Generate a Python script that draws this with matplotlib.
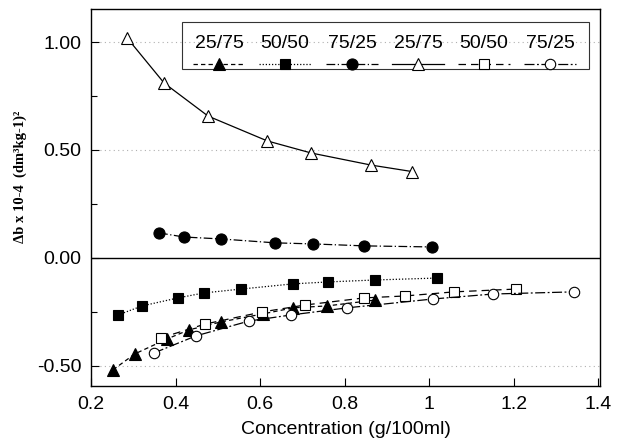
import matplotlib
matplotlib.use("Agg")
import matplotlib.pyplot as plt
from matplotlib.patches import Rectangle

# ---- data ----
labels = ["25/75", "50/50", "75/25", "25/75", "50/50", "75/25"]

x_tri_f = [0.252, 0.304, 0.380, 0.432, 0.508, 0.607, 0.678, 0.759, 0.872]
y_tri_f = [-0.518, -0.444, -0.375, -0.333, -0.296, -0.259, -0.231, -0.222, -0.195]

x_sq_f = [0.264, 0.321, 0.406, 0.467, 0.555, 0.678, 0.761, 0.872, 1.019]
y_sq_f = [-0.264, -0.222, -0.185, -0.162, -0.144, -0.120, -0.111, -0.102, -0.093]

x_ci_f = [0.361, 0.420, 0.508, 0.635, 0.725, 0.846, 1.007]
y_ci_f = [0.116, 0.097, 0.088, 0.070, 0.065, 0.056, 0.051]

x_tri_o = [0.285, 0.373, 0.477, 0.617, 0.721, 0.863, 0.960]
y_tri_o = [1.020, 0.810, 0.657, 0.542, 0.486, 0.430, 0.400]

x_sq_o = [0.366, 0.470, 0.605, 0.706, 0.846, 0.943, 1.059, 1.206]
y_sq_o = [-0.370, -0.306, -0.250, -0.218, -0.185, -0.176, -0.157, -0.144]

x_ci_o = [0.349, 0.448, 0.574, 0.673, 0.806, 1.009, 1.151, 1.343]
y_ci_o = [-0.440, -0.361, -0.292, -0.264, -0.231, -0.190, -0.167, -0.157]

xticks = [0.2, 0.4, 0.6, 0.8, 1.0, 1.2, 1.4]
xticklabels = ["0.2", "0.4", "0.6", "0.8", "1", "1.2", "1.4"]
yticks = [-0.5, 0.0, 0.5, 1.0]
yticklabels = ["-0.50", "0.00", "0.50", "1.00"]

# ---- figure ----
W, H = 617, 441
fig = plt.figure(figsize=(W / 100, H / 100), dpi=100)
L, R, T, B = 91, 600, 9, 386
ax = fig.add_axes([L / W, 1 - B / H, (R - L) / W, (B - T) / H])
ax.set_xlim(0.2, 1.404)
ax.set_ylim(-0.593, 1.153)

sans = "Liberation Sans"
lw = 0.9
series = [
    (x_tri_f, y_tri_f, dict(marker="^", mfc="black", mec="black", ms=9, linestyle=(0, (3.5, 2.5)))),
    (x_sq_f, y_sq_f, dict(marker="s", mfc="black", mec="black", ms=7.5, linestyle=(0, (1, 1.5)))),
    (x_ci_f, y_ci_f, dict(marker="o", mfc="black", mec="black", ms=8, linestyle=(0, (7, 2, 1, 2)))),
    (x_tri_o, y_tri_o, dict(marker="^", mfc="white", mec="black", ms=9, linestyle="-")),
    (x_sq_o, y_sq_o, dict(marker="s", mfc="white", mec="black", ms=7.5, linestyle=(0, (6, 4)))),
    (x_ci_o, y_ci_o, dict(marker="o", mfc="white", mec="black", ms=7.5, linestyle=(0, (8, 2, 1.5, 2)))),
]
for xs, ys, st in series:
    ax.plot(xs, ys, color="black", lw=lw, mew=0.8, **st, zorder=3)

ax.axhline(0, color="black", lw=1.0, zorder=2)
for yv in [-0.5, 0.5, 1.0]:
    ax.axhline(yv, color="#b0b0b0", lw=0.8, linestyle=(0, (1, 3)), zorder=1)

ax.set_xticks(xticks)
ax.set_xticklabels(xticklabels, fontfamily=sans, fontsize=14)
ax.set_yticks(yticks)
ax.set_yticklabels(yticklabels, fontfamily=sans, fontsize=14)
ax.set_yticks([-0.25, 0.25, 0.75], minor=True)
ax.tick_params(axis="both", which="major", direction="in", length=6, width=0.8, pad=7)
ax.tick_params(axis="y", which="minor", direction="in", length=4, width=0.8)
for s in ax.spines.values():
    s.set_linewidth(1.0)

ax.set_xlabel("Concentration (g/100ml)", fontfamily=sans, fontsize=14, labelpad=6)
fig.text(20 / W, 1 - 177 / H, "Δb x 10-4  (dm³kg-1)²", rotation=90,
         fontfamily="Liberation Serif", fontweight="bold", fontsize=10.5,
         ha="center", va="center")

# ---- legend (manual, labels above handles) ----
def fx(px):
    return (px - L) / (R - L)

def fy(py):
    return (B - py) / (B - T)

ax.add_patch(Rectangle((fx(182), fy(69)), fx(589) - fx(182), fy(22) - fy(69),
                       transform=ax.transAxes, fill=False, edgecolor="#333333",
                       lw=0.8, zorder=4, clip_on=False))
centers = [219, 285, 352, 418, 484, 550]
for (xs, ys, st), lab, cx in zip(series, labels, centers):
    ax.text(fx(cx), fy(48), lab, transform=ax.transAxes, ha="center", va="baseline",
            fontfamily=sans, fontsize=14, zorder=5)
    ax.plot([fx(cx - 26), fx(cx + 26)], [fy(64), fy(64)], transform=ax.transAxes,
            color="black", lw=lw, linestyle=st["linestyle"], clip_on=False, zorder=5)
    ax.plot([fx(cx)], [fy(64)], transform=ax.transAxes, color="black",
            marker=st["marker"], mfc=st["mfc"], mec=st["mec"], ms=st["ms"], mew=0.8,
            linestyle="none", clip_on=False, zorder=6)

fig.savefig("out.png", dpi=100)
